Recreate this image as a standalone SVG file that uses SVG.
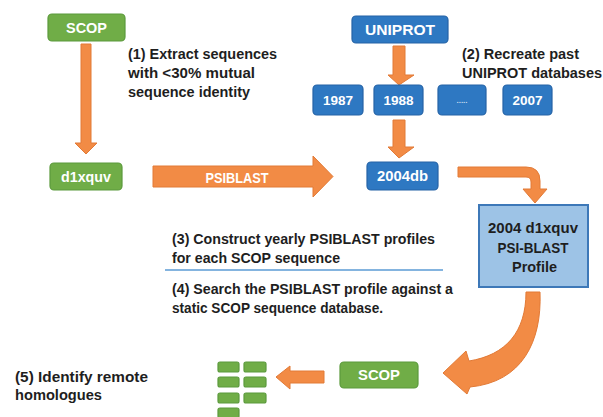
<svg xmlns="http://www.w3.org/2000/svg" width="603" height="417" viewBox="0 0 603 417">
<style>
text{font-family:"Liberation Sans",Arial,sans-serif;font-weight:bold}
.g{fill:#70ad47;stroke:#5b9a3c;stroke-width:1.2}
.b{fill:#2e78c2;stroke:#2563a6;stroke-width:1.2}
.lb{fill:#9dc3e6;stroke:#3d78b8;stroke-width:2}
.w{fill:#ffffff;text-anchor:middle}
.k{fill:#1e1e1e}
.kc{fill:#1e1e1e;text-anchor:middle}
.ar{fill:#f28b45;stroke:#e27a36;stroke-width:1}
</style>
<rect width="603" height="417" fill="#ffffff"/>
<g id="connectors">
<path class="ar" d="M81 44 L91 44 L91 143 L97 143 L86 154 L75 143 L81 143 Z"/>
<path class="ar" d="M153 166 L313 166 L313 156 L333 176.5 L313 197 L313 187 L153 187 Z"/>
<path class="ar" d="M393 46 L405 46 L405 75 L414 75 L399 85 L388 75 L393 75 Z"/>
<path class="ar" d="M393 120 L405 120 L405 147 L414 147 L399 158 L388 147 L393 147 Z"/>
<path class="ar" d="M458 167 L526 167 Q540 167 540 181 L540 189 L547 189 L535 203 L523 189 L531 189 L531 182 Q531 177 526 177 L458 177 Z"/>
<path class="ar" d="M526 292 L540 292 C542 342 522 382 470 387 L467 394 L443 373 L466 351 L469 361 C506 355 526 332 526 292 Z"/>
<path class="ar" d="M324 371 L324 383 L290 383 L290 389 L276 377 L290 366 L290 371 Z"/>
</g>
<g id="scop-top"><rect class="g" x="48" y="14" width="77" height="27" rx="4"/><text class="w" x="86.5" y="33" font-size="14.5" textLength="41" lengthAdjust="spacingAndGlyphs">SCOP</text></g>
<g id="d1xquv"><rect class="g" x="50" y="163" width="72" height="27" rx="4"/><text class="w" x="86" y="182" font-size="14.5" textLength="50" lengthAdjust="spacingAndGlyphs">d1xquv</text></g>
<g id="psiblast-label"><text class="w" x="237" y="183" font-size="14.5" textLength="63" lengthAdjust="spacingAndGlyphs">PSIBLAST</text></g>
<g id="uniprot"><rect class="b" x="352" y="16" width="96" height="27" rx="4"/><text class="w" x="400" y="35" font-size="14.5" textLength="70" lengthAdjust="spacingAndGlyphs">UNIPROT</text></g>
<g id="y1987"><rect class="b" x="313" y="85" width="50" height="30" rx="4"/><text class="w" x="338" y="105" font-size="13.5">1987</text></g>
<g id="y1988"><rect class="b" x="374" y="85" width="49" height="30" rx="4"/><text class="w" x="398.5" y="105" font-size="13.5">1988</text></g>
<g id="ydots"><rect class="b" x="438" y="85" width="48" height="30" rx="4"/><text x="462" y="103" font-size="8" fill="#c9dcef" text-anchor="middle">.....</text></g>
<g id="y2007"><rect class="b" x="503" y="85" width="49" height="30" rx="4"/><text class="w" x="527.5" y="105" font-size="13.5">2007</text></g>
<g id="db2004"><rect class="b" x="367" y="162" width="71" height="28" rx="4"/><text class="w" x="402.5" y="181" font-size="14.5" textLength="51" lengthAdjust="spacingAndGlyphs">2004db</text></g>
<g id="profile"><rect class="lb" x="479" y="205" width="109" height="82"/>
<text class="kc" x="533" y="233" font-size="15" textLength="90" lengthAdjust="spacingAndGlyphs">2004 d1xquv</text>
<text class="kc" x="533" y="253" font-size="15" textLength="71" lengthAdjust="spacingAndGlyphs">PSI-BLAST</text>
<text class="kc" x="534.5" y="272" font-size="15" textLength="45" lengthAdjust="spacingAndGlyphs">Profile</text></g>
<g id="scop-bottom"><rect class="g" x="340" y="362" width="78" height="26" rx="4"/><text class="w" x="379" y="380" font-size="14.5" textLength="42" lengthAdjust="spacingAndGlyphs">SCOP</text></g>
<g id="results">
<rect class="g" x="218" y="362" width="21" height="10" rx="2"/><rect class="g" x="244" y="362" width="22" height="10" rx="2"/>
<rect class="g" x="218" y="377" width="21" height="10" rx="2"/><rect class="g" x="244" y="377" width="22" height="10" rx="2"/>
<rect class="g" x="218" y="393" width="21" height="10" rx="2"/><rect class="g" x="244" y="393" width="22" height="10" rx="2"/>
<rect class="g" x="218" y="408" width="21" height="10" rx="2"/>
</g>
<g id="step1">
<text class="k" x="128" y="59" font-size="14" textLength="149" lengthAdjust="spacingAndGlyphs">(1) Extract sequences</text>
<text class="k" x="128" y="78" font-size="14" textLength="127" lengthAdjust="spacingAndGlyphs">with &lt;30% mutual</text>
<text class="k" x="128" y="97" font-size="14" textLength="122" lengthAdjust="spacingAndGlyphs">sequence identity</text>
</g>
<g id="step2">
<text class="k" x="462" y="58.5" font-size="14" textLength="117" lengthAdjust="spacingAndGlyphs">(2) Recreate past</text>
<text class="k" x="462" y="77.5" font-size="14" textLength="140" lengthAdjust="spacingAndGlyphs">UNIPROT databases</text>
</g>
<g id="step3">
<text class="k" x="172" y="244" font-size="14" textLength="263" lengthAdjust="spacingAndGlyphs">(3) Construct yearly PSIBLAST profiles</text>
<text class="k" x="172" y="262.5" font-size="14" textLength="168" lengthAdjust="spacingAndGlyphs">for each SCOP sequence</text>
</g>
<line x1="165" y1="270" x2="443" y2="270" stroke="#5b9bd5" stroke-width="1.5"/>
<g id="step4">
<text class="k" x="172" y="294" font-size="14" textLength="281" lengthAdjust="spacingAndGlyphs">(4) Search the PSIBLAST profile against a</text>
<text class="k" x="172" y="312.5" font-size="14" textLength="211" lengthAdjust="spacingAndGlyphs">static SCOP sequence database.</text>
</g>
<g id="step5">
<text class="k" x="15" y="382" font-size="14" textLength="133" lengthAdjust="spacingAndGlyphs">(5) Identify remote</text>
<text class="k" x="15" y="400" font-size="14" textLength="87" lengthAdjust="spacingAndGlyphs">homologues</text>
</g>
</svg>
